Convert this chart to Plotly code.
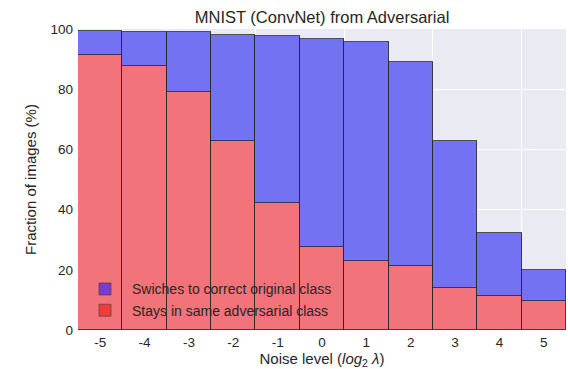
import plotly.graph_objects as go

noise_levels = [-5, -4, -3, -2, -1, 0, 1, 2, 3, 4, 5]
tick_labels = ["-5", "-4", "-3", "-2", "-1", "0", "1", "2", "3", "4", "5"]
stays_same = [91.3, 87.7, 79.1, 62.9, 42.2, 27.7, 23.0, 21.4, 13.9, 11.3, 9.8]
total_pct = [99.5, 99.1, 98.9, 98.1, 97.6, 96.8, 95.6, 89.2, 62.9, 32.2, 20.0]
switches_correct = [round(t - s, 1) for t, s in zip(total_pct, stays_same)]
grid_edges = [-3.5, -1.5, 0.5, 2.5, 4.5]

label_switch = "Swiches to correct original class"
label_stay = "Stays in same adversarial class"

RED = "#F27379"
BLUE = "#7272F2"
EDGE = "rgba(40,40,40,0.8)"
TXT = "#262626"
FONT = "Liberation Sans, Arial, sans-serif"

fig = go.Figure()
fig.add_trace(go.Bar(x=noise_levels, y=stays_same, marker=dict(color=RED, line=dict(color=EDGE, width=1)),
                     showlegend=False, name=label_stay))
fig.add_trace(go.Bar(x=noise_levels, y=switches_correct, marker=dict(color=BLUE, line=dict(color=EDGE, width=1)),
                     showlegend=False, name=label_switch))
# legend entries
fig.add_trace(go.Bar(x=[None], y=[None], name=label_switch,
                     marker=dict(color="#7B3CC8", line=dict(color="rgba(60,60,60,0.6)", width=1))))
fig.add_trace(go.Bar(x=[None], y=[None], name=label_stay,
                     marker=dict(color="#F23C3C", line=dict(color="rgba(60,60,60,0.6)", width=1))))
fig.add_trace(go.Scatter(x=[None], y=[None], xaxis="x2", showlegend=False))

fig.update_layout(
    width=568, height=369,
    margin=dict(l=78, r=2, t=29, b=39),
    barmode="stack", bargap=0,
    paper_bgcolor="white", plot_bgcolor="#EAEAF2",
    font=dict(family=FONT, color=TXT, size=13.5),
    title=dict(text="MNIST (ConvNet) from Adversarial", x=0.567, xanchor="center",
               y=0.952, yanchor="middle", font=dict(size=16.5, color=TXT)),
    xaxis=dict(range=[-5.5, 5.5], tickvals=noise_levels, ticktext=tick_labels, showgrid=False,
               zeroline=False, ticks="", ticklabelstandoff=2, automargin=False,
               title=dict(text="Noise level (<i>log</i><sub>2</sub> <i>λ</i>)", font=dict(size=15), standoff=9)),
    xaxis2=dict(range=[-5.5, 5.5], overlaying="x", matches="x", tickvals=grid_edges, showticklabels=False,
                showgrid=True, gridcolor="white", gridwidth=1, zeroline=False, ticks=""),
    yaxis=dict(range=[0, 100], tickvals=[0, 20, 40, 60, 80, 100], showgrid=True, gridcolor="white",
               gridwidth=1, zeroline=False, ticks="", ticklabelstandoff=4,
               title=dict(text="Fraction of images (%)", font=dict(size=15), standoff=10)),
    legend=dict(x=0.0, y=0.012, xanchor="left", yanchor="bottom", bgcolor="rgba(0,0,0,0)",
                font=dict(size=14, color=TXT), traceorder="normal", tracegroupgap=0,
                itemwidth=44),
)

fig.write_html("out.html")
